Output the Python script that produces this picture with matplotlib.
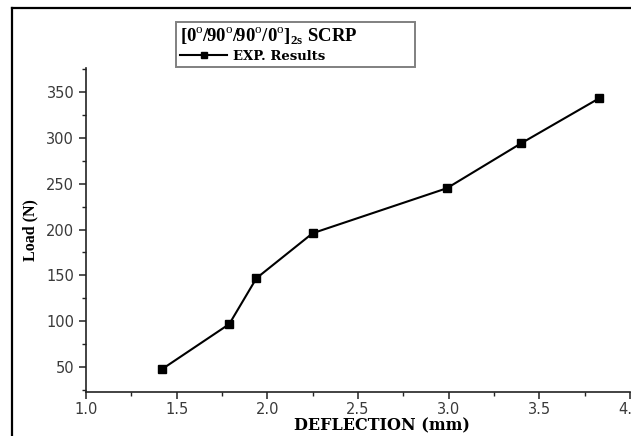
import matplotlib
matplotlib.use("Agg")
import matplotlib.pyplot as plt
from matplotlib.lines import Line2D
from matplotlib.ticker import MultipleLocator

plt.rcParams["mathtext.fontset"] = "custom"
plt.rcParams["mathtext.rm"] = "Liberation Serif"
plt.rcParams["mathtext.bf"] = "Liberation Serif:bold"

deflection_mm = [1.42, 1.79, 1.94, 2.25, 2.99, 3.40, 3.83]
load_n = [48, 97, 147, 196, 245, 294, 343]
series_label = "EXP. Results"
legend_title = r"[0$^\mathrm{o}$/90$^\mathrm{o}$/90$^\mathrm{o}$/0$^\mathrm{o}$]$_\mathbf{2s}$ SCRP"

fig = plt.figure(figsize=(6.31, 4.36), dpi=100)
ax = fig.add_axes([86 / 631, 1 - 392 / 436, 544 / 631, 324 / 436])

ax.plot(deflection_mm, load_n, color="black", lw=1.5, marker="s",
        markersize=6, label=series_label)

ax.set_xlim(1.0, 4.0)
ax.set_ylim(23, 376)
ax.xaxis.set_major_locator(MultipleLocator(0.5))
ax.xaxis.set_minor_locator(MultipleLocator(0.25))
ax.yaxis.set_major_locator(MultipleLocator(50))
ax.yaxis.set_minor_locator(MultipleLocator(25))
ax.set_yticks([50, 100, 150, 200, 250, 300, 350])

for s in ["top", "right"]:
    ax.spines[s].set_visible(False)
for s in ["left", "bottom"]:
    ax.spines[s].set_linewidth(1.2)
    ax.spines[s].set_color("#222222")

ax.tick_params(which="major", direction="out", length=5, width=1.1,
               colors="#222222", labelsize=10.5, labelcolor="#3a3a3a")
ax.tick_params(axis="x", which="major", pad=2)
ax.tick_params(which="minor", direction="out", length=3, width=1.0,
               colors="#222222")
for lab in ax.get_xticklabels() + ax.get_yticklabels():
    lab.set_family("DejaVu Sans")

ax.set_xlabel("DEFLECTION (mm)", family="DejaVu Serif", weight="bold", fontsize=11.5)
ax.set_ylabel("Load (N)", family="Liberation Serif", weight="bold", fontsize=11.5)
ax.xaxis.set_label_coords(0.544, -0.077)
ax.yaxis.set_label_coords(-0.088, 0.5)

leg = ax.legend(loc="upper left", bbox_to_anchor=(176 / 631, 1 - 65 / 436, 239 / 631, 43 / 436),
                bbox_transform=fig.transFigure, mode="expand", borderaxespad=0,
                title=legend_title, alignment="left", fancybox=False,
                handlelength=3.6, handletextpad=0.4, borderpad=0.3,
                labelspacing=0.2, framealpha=1, markerscale=0.75,
                prop={"family": "DejaVu Serif", "weight": "bold", "size": 9.5},
                title_fontproperties={"family": "Liberation Serif", "weight": "bold", "size": 13.5})
leg.get_frame().set_edgecolor("#808080")
leg.get_frame().set_linewidth(1.4)

# outer frame of the screenshot
fig.add_artist(Line2D([12 / 631, 12 / 631], [0, 1 - 8 / 436], transform=fig.transFigure,
                      color="black", lw=1.6))
fig.add_artist(Line2D([12 / 631, 1], [1 - 8 / 436, 1 - 8 / 436], transform=fig.transFigure,
                      color="black", lw=1.6))

fig.savefig("out.png", dpi=100)
